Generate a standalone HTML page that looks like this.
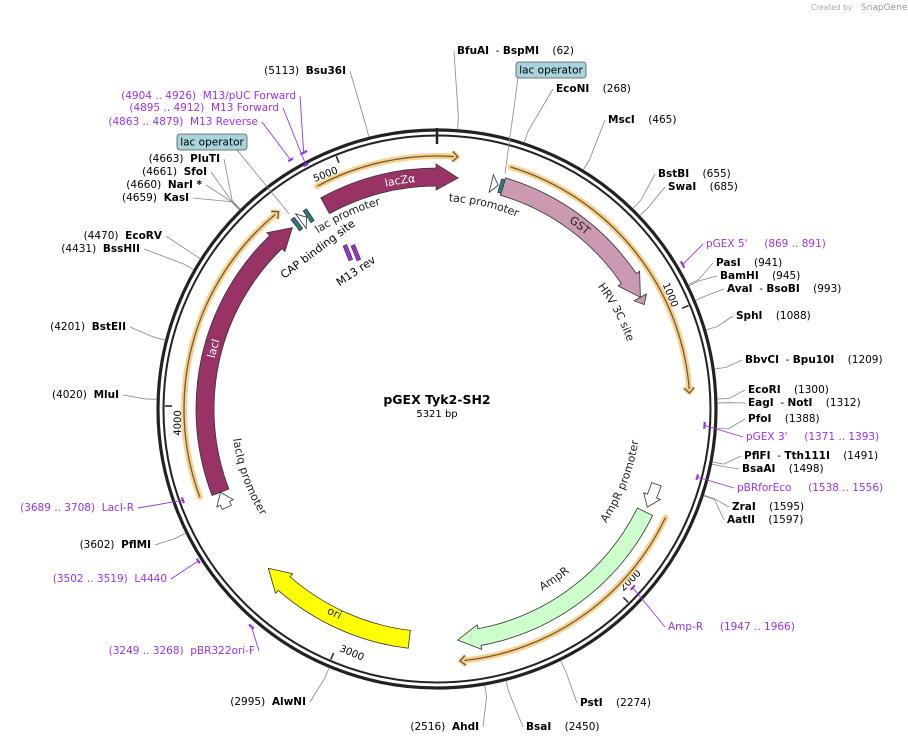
<!DOCTYPE html>
<html><head><meta charset="utf-8">
<style>
html,body{margin:0;padding:0;background:#fff;}
svg{display:block;font-family:"DejaVu Sans","Liberation Sans",sans-serif;}
text{white-space:pre;}
.b{font-weight:bold;}
</style></head>
<body>
<svg id="map" width="908" height="744" viewBox="0 0 908 744" xml:space="preserve">
<text x="811" y="10" font-size="7.5" fill="#aaa">Created by</text>
<text x="861" y="10" font-size="9" fill="#999">SnapGene</text>
<g id="rings"></g>
<g id="feats"></g>
<g id="labels"></g>
<text x="437" y="404" font-size="12.5" font-weight="bold" text-anchor="middle">pGEX Tyk2-SH2</text>
<text x="437" y="417" font-size="10" text-anchor="middle">5321 bp</text>
</svg>
<script>
const TOTAL = 5321;
// features
const featNames = ["lacZa","GST","HRV 3C site","AmpR","ori","lacI","AmpR promoter","lacIq promoter","lac promoter","tac promoter","lac operator","CAP binding site","lac operator 2"];
const featStart = [4895,244,905,1719,2762,3680,1610,3620,4790,200,4818,4765,232];
const featEnd   = [77,905,935,2585,3350,4751,1700,3680,4815,226,4832,4779,245];
const featKind  = ["orf","orf","small","ampr","ori","orf","prom","prom","prom","prom","op","op","op"];
// ORF direction arcs
const orfStart = [4903,250,1706,3690];
const orfEnd   = [70,1277,2583,4748];
// ring ticks
const tickVals = [1000,2000,3000,4000,5000];
const tickLabels = ["1000","2000","3000","4000","5000"];
// enzymes
const enzNames = ["BfuAI|BspMI","EcoNI","MscI","BstBI","SwaI","PasI","BamHI","AvaI|BsoBI","SphI","BbvCI|Bpu10I","EcoRI","EagI|NotI","PfoI","PflFI|Tth111I","BsaAI","ZraI","AatII","PstI","BsaI","AhdI","AlwNI","PflMI","MluI","BstEII","BssHII","EcoRV","KasI","NarI *","SfoI","PluTI","Bsu36I"];
const enzPos = [62,268,465,655,685,941,945,993,1088,1209,1300,1312,1388,1491,1498,1595,1597,2274,2450,2516,2995,3602,4020,4201,4431,4470,4659,4660,4661,4663,5113];
const enzSide = ["R","R","R","R","R","R","R","R","R","R","R","R","R","R","R","R","R","R","R","L","L","L","L","L","L","L","L","L","L","L","L"];
const enzLX = [457,556,608,658,668,716,720,727,736,745,748,748,748,744,742,732,727,580,526,479,306,151,119,126,140,162,189,202,207,220,346];
const enzLY = [51,89,120,174,187,263,276,289,316,360,390,403,419,456,469,507,520,703,727,727,702,545,395,327,249,236,198,185,172,159,71];
// primers
const primNames = ["pGEX 5'","pGEX 3'","pBRforEco","Amp-R","pBR322ori-F","L4440","LacI-R","M13 Reverse","M13 Forward","M13/pUC Forward"];
const primStart = [869,1371,1538,1947,3249,3502,3689,4863,4895,4904];
const primEnd   = [891,1393,1556,1966,3268,3519,3708,4879,4912,4926];
const primR     = [285,268,269,265,286,283,270,289,277,289];
const primLX = [706,746,737,668,255,167,134,258,279,296];
const primLY = [244,437,488,627,651,579,508,122,108,96];

const NS="http://www.w3.org/2000/svg";
const cx=437, cy=409;
function ang(bp){return bp/TOTAL*2*Math.PI;}
function pt(bp,r){const a=ang(bp);return [cx+r*Math.sin(a), cy-r*Math.cos(a)];}
function span(s,e){let d=e-s; if(d<0)d+=TOTAL; return d;}
function arcD(s,e,r,ccw){
  const d=span(s,e); const p1=pt(s,r), p2=pt(s+d,r);
  const large=(d/TOTAL>0.5)?1:0;
  return ccw ? `M${p2[0]},${p2[1]} A${r},${r} 0 ${large} 0 ${p1[0]},${p1[1]}`
             : `M${p1[0]},${p1[1]} A${r},${r} 0 ${large} 1 ${p2[0]},${p2[1]}`;
}
function mk(tag,attrs,parent){const el=document.createElementNS(NS,tag);for(const k in attrs)el.setAttribute(k,attrs[k]);parent.appendChild(el);return el;}
const rings=document.getElementById('rings'), feats=document.getElementById('feats'), labels=document.getElementById('labels');

let c1=mk('circle',{cx:cx,cy:cy,r:279,fill:'none',stroke:'#222','stroke-width':3.2},rings);


let c2=mk('circle',{cx:cx,cy:cy,r:273.5,fill:'none',stroke:'#222','stroke-width':2},rings);


let t0a=pt(0,281), t0b=pt(0,265);
let t0=mk('line',{x1:t0a[0],y1:t0a[1],x2:t0b[0],y2:t0b[1],stroke:'#222','stroke-width':2.5},rings);



tickVals.forEach((v,i)=>{
  const a=pt(v,272), b=pt(v,265);
  const l=mk('line',{x1:a[0],y1:a[1],x2:b[0],y2:b[1],stroke:'#222','stroke-width':1.5},rings);
  
  
  const deg=v/TOTAL*360; const rot=(deg<=90||deg>=270)?deg:deg-180;
  const p=pt(v-55,259);
  const t=mk('text',{x:p[0],y:p[1],'font-size':10,'text-anchor':'middle','dominant-baseline':'central',transform:`rotate(${rot} ${p[0]} ${p[1]})`},rings);
  t.textContent=tickLabels[i];
  
  
});

// ORF arcs
orfStart.forEach((s,i)=>{
  const e=orfEnd[i], R=253;
  const g=mk('g',{},feats);
  
  
  mk('path',{d:arcD(s,e-14,R),fill:'none',stroke:'#fbd18a','stroke-width':6,'stroke-linecap':'round'},g);
  mk('path',{d:arcD(s,e-14,R),fill:'none',stroke:'#6b5a40','stroke-width':1.3},g);
  const tip=pt(e,R), b1=pt(e-18,R+5), b2=pt(e-18,R-5);
  mk('path',{d:`M${b1} L${tip} L${b2}`,fill:'none',stroke:'#fbd18a','stroke-width':4,'stroke-linejoin':'round'},g);
  mk('path',{d:`M${b1} L${tip} L${b2}`,fill:'none',stroke:'#6b5a40','stroke-width':1.3},g);
});

function arrowPath(s,e,r,w,headPx,headW){
  const d=span(s,e); const h=Math.min(headPx/(2*Math.PI*r)*TOTAL, d);
  const m=s+d-h; const ro=r+w/2, ri=r-w/2;
  const p1=pt(s,ro), p2=pt(m,ro), p3=pt(m,ro+headW), tip=pt(s+d,r), p4=pt(m,ri-headW), p5=pt(m,ri), p6=pt(s,ri);
  const large=((d-h)/TOTAL>0.5)?1:0;
  return `M${p1} A${ro},${ro} 0 ${large} 1 ${p2} L${p3} L${tip} L${p4} L${p5} A${ri},${ri} 0 ${large} 0 ${p6} Z`;
}
featNames.forEach((n,i)=>{
  const k=featKind[i]; let d, fill, stroke='#333';
  if(k==='orf'){ fill = (n==='GST')?'#cc99b3':'#993366'; d=arrowPath(featStart[i],featEnd[i],232,18,22,4); }
  else if(k==='small'){ fill='#cc99b3'; d=arrowPath(featStart[i],featEnd[i],232,8,10,3); }
  else if(k==='ampr'){ fill='#ccffcc'; d=arrowPath(featStart[i],featEnd[i],232,17,22,4); }
  else if(k==='ori'){ fill='#ffff00'; d=arrowPath(featStart[i],featEnd[i],232,18,22,4); }
  else if(k==='prom'){ fill='#fff'; d=arrowPath(featStart[i],featEnd[i],232,10,12,4); }
  else { fill='#2e7a8a'; d=arrowPath(featStart[i],featEnd[i],232,14,0.1,0); }
  const p=mk('path',{d:d,fill:fill,stroke:stroke,'stroke-width':0.8},feats);
  
  
});
// M13 rev purple marks
[0,8].forEach(o=>{
  const x=343+o, y=246;
  const r=mk('rect',{x:x,y:y,width:4,height:16,fill:'#9933cc',stroke:'#333','stroke-width':0.6,transform:`rotate(-22 ${x} ${y})`},feats);
  
  
});

// feature labels along arcs
const flText=["lacZα","tac promoter","GST","HRV 3C site","AmpR promoter","AmpR","ori","lacI","lacIq promoter","lac promoter"];
const flBp=[5185,191,560,911,1648,2149,3055,4215,3698,4955];
const flR=[232,212,233,206,200,206,228,232,202,216];
const flCcw=[0,0,0,0,1,1,1,0,1,0];
const flCol=["#fff","#222","#222","#222","#222","#222","#222","#fff","#222","#222"];
const defs=mk('defs',{},document.getElementById('map'));
flText.forEach((t,i)=>{
  const id='fp'+i;
  mk('path',{id:id,d:arcD(flBp[i]-500,flBp[i]+500,flR[i],flCcw[i]),fill:'none'},defs);
  const tx=mk('text',{'font-size':11,fill:flCol[i],'dominant-baseline':'central','text-anchor':'middle'},labels);
  
  
  const tp=mk('textPath',{href:'#'+id,startOffset:'50%'},tx);
  tp.textContent=t;
});
let cap=mk('text',{x:320,y:252,'font-size':11,'text-anchor':'middle',transform:'rotate(-37 320 252)'},labels);
cap.textContent='CAP binding site';


let m13=mk('text',{x:358,y:274,'font-size':11,'text-anchor':'middle',transform:'rotate(-34 358 274)'},labels);
m13.textContent='M13 rev';



// enzymes
enzNames.forEach((n,i)=>{
  const bp=enzPos[i], x=enzLX[i], y=enzLY[i];
  const left = enzSide[i]==='L';
  const a=pt(bp,280.5), b=pt(bp,292);
  const ex = left ? x+4 : x-3;
  const ln=mk('polyline',{points:`${a} ${b} ${ex},${y}`,fill:'none',stroke:'#888','stroke-width':0.8},labels);
  
  
  const t=mk('text',{x:x,y:y,'font-size':10.5,'dominant-baseline':'central','text-anchor':left?'end':'start'},labels);
  
  
  const parts=n.split('|');
  if(left){
    const s1=mk('tspan',{},t); s1.textContent='('+bp+')  ';
    const s2=mk('tspan',{class:'b'},t); s2.textContent=parts[0];
  } else {
    parts.forEach((p,j)=>{
      if(j>0){const d=mk('tspan',{},t); d.textContent='  - ';}
      const s=mk('tspan',{class:'b'},t); s.textContent=p;
    });
    const s3=mk('tspan',{},t); s3.textContent='    ('+bp+')';
  }
});

// primers
primNames.forEach((n,i)=>{
  const s=primStart[i], e=primEnd[i], r=primR[i], x=primLX[i], y=primLY[i];
  const m=mk('path',{d:arcD(s,e,r),fill:'none',stroke:'#9933ee','stroke-width':2.2},labels);
  
  
  const left = x < cx;
  const a=pt((s+e)/2,r);
  const ex = left ? x+4 : x-3;
  const ln=mk('line',{x1:a[0],y1:a[1],x2:ex,y2:y,stroke:'#9933ee','stroke-width':0.9},labels);
  
  
  const t=mk('text',{x:x,y:y,'font-size':10.5,fill:'#9933ee','dominant-baseline':'central','text-anchor':left?'end':'start'},labels);
  t.textContent = left ? `(${s} .. ${e})  ${n}` : `${n}     (${s} .. ${e})`;
  
  
});

// lac operator boxes
[[516,62,70,'lac-operator-box-top'],[177,134,70,'lac-operator-box-left']].forEach(o=>{
  const g=mk('g',{},labels);
  
  
  const tgt = o[3]==='lac-operator-box-top' ? pt(238,245) : pt(4772,245);
  const sx = o[3]==='lac-operator-box-top' ? o[0]+2 : o[0]+o[2]-10;
  mk('line',{x1:sx,y1:o[1]+16,x2:tgt[0],y2:tgt[1],stroke:'#888','stroke-width':0.8},g);
  mk('rect',{x:o[0],y:o[1],width:o[2],height:16,rx:3,fill:'#a7d4dd',stroke:'#555','stroke-width':0.8},g);
  const t=mk('text',{x:o[0]+o[2]/2,y:o[1]+8.5,'font-size':10.5,'text-anchor':'middle','dominant-baseline':'central'},g);
  t.textContent='lac operator';
});
</script>
</body></html>
